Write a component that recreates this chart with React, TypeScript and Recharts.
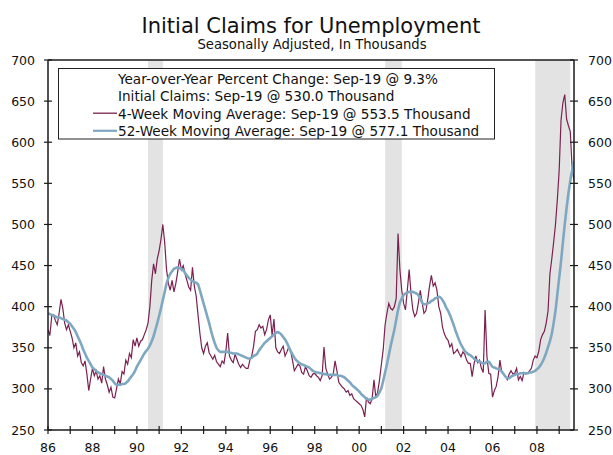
import React from 'react';
import { ComposedChart, Line, XAxis, YAxis, ReferenceArea, ReferenceLine } from 'recharts';

// Monthly readings, Jan 1986 through Sep 2009, in thousands
const START_YEAR = 1986;

const fourWeekAvg = [
  // 1986
  372, 365, 388, 390, 383, 378, 392, 409, 398, 380, 372, 378,
  // 1987
  370, 362, 350, 356, 340, 345, 332, 328, 334, 318, 298, 312,
  // 1988
  325, 316, 322, 312, 316, 307, 327, 312, 305, 296, 302, 290,
  // 1989
  289, 300, 312, 306, 321, 318, 335, 330, 343, 338, 360, 352,
  // 1990
  362, 352, 358, 360, 366, 372, 380, 400, 432, 452, 440, 458,
  // 1991
  468, 482, 500, 478, 445, 428, 420, 432, 418, 428, 442, 458,
  // 1992
  445, 450, 440, 432, 424, 420, 448, 425, 413, 390, 368, 350,
  // 1993
  343, 352, 356, 344, 340, 336, 341, 333, 330, 327, 334, 331,
  // 1994
  345, 368, 340, 335, 332, 342, 336, 330, 326, 330, 327, 325,
  // 1995
  325, 335, 340, 352, 370, 372, 378, 374, 376, 366, 372, 384,
  // 1996
  390, 365, 385, 350, 345, 343, 348, 352, 340, 345, 351, 346,
  // 1997
  335, 322, 326, 330, 328, 320, 318, 327, 322, 316, 314, 318,
  // 1998
  319, 316, 314, 310, 316, 351, 325, 318, 312, 314, 318, 334,
  // 1999
  322, 308, 305, 302, 300, 296, 298, 292, 294, 288, 286, 284,
  // 2000
  282, 280, 275, 266, 290, 284, 282, 288, 311, 290, 296, 311,
  // 2001
  330, 348, 378, 392, 404, 398, 396, 400, 410, 489, 445, 420,
  // 2002
  404, 396, 420, 445, 416, 396, 388, 392, 405, 420, 405, 392,
  // 2003
  395, 408, 425, 438, 425, 429, 420, 400, 392, 375, 367, 362,
  // 2004
  359, 351, 355, 343, 345, 348, 343, 339, 345, 342, 335, 331,
  // 2005
  331, 315, 330, 340, 332, 335, 325, 320, 396, 339, 319, 318,
  // 2006
  290, 298, 303, 315, 335, 320, 318, 315, 311, 318, 322, 318,
  // 2007
  319, 325, 311, 315, 310, 320, 318, 319, 322, 325, 335, 340,
  // 2008
  338, 346, 360, 366, 370, 380, 395, 440, 458, 478, 500, 530,
  // 2009
  566, 627, 648, 658, 628, 620, 613, 568, 553.5,
];

const fiftyTwoWeekAvg = [
  // 1986
  392, 391, 390, 389, 388, 387, 387, 386, 385, 384, 383, 381,
  // 1987
  379, 376, 373, 369, 364, 359, 354, 348, 343, 338, 334, 330,
  // 1988
  326, 324, 322, 320, 319, 318, 317, 316, 315, 314, 312, 310,
  // 1989
  307, 305, 305, 305, 306, 306, 307, 309, 312, 315, 318, 322,
  // 1990
  327, 331, 335, 339, 343, 346, 349, 353, 358, 364, 372, 380,
  // 1991
  389, 398, 408, 418, 428, 435, 440, 443, 446, 447, 448, 447,
  // 1992
  446, 444, 441, 438, 435, 433, 431, 430, 429, 427, 420, 412,
  // 1993
  404, 396, 388, 380, 371, 363, 356, 350, 347, 345, 345, 345,
  // 1994
  345, 345, 344, 344, 343, 343, 343, 342, 341, 340, 339, 338,
  // 1995
  337, 337, 338, 340, 341, 343, 347, 350, 353, 356, 358, 360,
  // 1996
  362, 364, 366, 368, 369, 368, 366, 363, 360, 356, 351, 346,
  // 1997
  342, 338, 335, 333, 331, 330, 329, 328, 327, 326, 324, 322,
  // 1998
  321, 320, 320, 319, 319, 318, 318, 317, 317, 317, 317, 317,
  // 1999
  317, 316, 316, 315, 314, 312, 310, 308, 305, 303, 301, 299,
  // 2000
  297, 294, 292, 290, 288, 287, 287, 288, 289, 290, 292, 296,
  // 2001
  301, 310, 320, 330, 341, 352, 362, 372, 384, 396, 405, 410,
  // 2002
  414, 416, 417, 418, 418, 418, 417, 416, 414, 410, 405, 403,
  // 2003
  403, 404, 405, 407, 408, 410, 411, 412, 411, 408, 404, 399,
  // 2004
  395, 390, 384, 378, 371, 365, 359, 354, 350, 346, 344, 342,
  // 2005
  341, 339, 337, 335, 334, 333, 332, 331, 331, 333, 333, 330,
  // 2006
  327, 326, 325, 324, 323, 321, 318, 315, 313, 313, 315, 316,
  // 2007
  317, 318, 318, 319, 319, 319, 319, 319, 320, 320, 321, 322,
  // 2008
  324, 326, 329, 333, 338, 344, 351, 358, 367, 380, 395, 415,
  // 2009
  435, 455, 478, 500, 520, 538, 553, 566, 577.1,
];

const recessions = [
  { from: 1990.5, to: 1991.17 },
  { from: 2001.17, to: 2001.92 },
  { from: 2007.92, to: 2009.5 },
];

const yearTicks = [
  1986, 1987, 1988, 1989, 1990, 1991, 1992, 1993, 1994, 1995, 1996, 1997,
  1998, 1999, 2000, 2001, 2002, 2003, 2004, 2005, 2006, 2007, 2008, 2009,
];
const valueTicks = [250, 300, 350, 400, 450, 500, 550, 600, 650, 700];

const MAROON = '#7a2150';
const STEEL = '#7ea8c2';
const AXIS = '#1a1a1a';
const FONT = '"DejaVu Sans", Verdana, sans-serif';

const legendRows = [
  { label: 'Year-over-Year Percent Change: Sep-19 @ 9.3%', color: '' },
  { label: 'Initial Claims: Sep-19 @ 530.0 Thousand', color: '' },
  { label: '4-Week Moving Average: Sep-19 @ 553.5 Thousand', color: MAROON },
  { label: '52-Week Moving Average: Sep-19 @ 577.1 Thousand', color: STEEL },
];

const chartData = fourWeekAvg.map((v, i) => ({
  t: START_YEAR + i / 12,
  ma4: v,
  ma52: fiftyTwoWeekAvg[i],
}));

const YearTick = (props: any) => {
  const x = Number(props.x);
  const y = Number(props.y);
  const yr = Number(props.payload.value);
  return (
    <g>
      <line x1={x} x2={x} y1={y - 4} y2={y + 4} stroke={AXIS} strokeWidth={1.2} />
      {yr % 2 === 0 && (
        <text x={x} y={y + 21.5} textAnchor="middle" fontSize={12.5} fontFamily={FONT} fill="#111">
          {String(yr % 100).padStart(2, '0')}
        </text>
      )}
    </g>
  );
};

const ValueTick = (props: any) => {
  const x = Number(props.x);
  const y = Number(props.y);
  const right = props.side === 'right';
  return (
    <g>
      <line x1={x - 4} x2={x + 4} y1={y} y2={y} stroke={AXIS} strokeWidth={1.2} />
      <text
        x={right ? x + 14 : x - 13}
        y={y + 4.5}
        textAnchor={right ? 'start' : 'end'}
        fontSize={12.5}
        fontFamily={FONT}
        fill="#111"
      >
        {props.payload.value}
      </text>
    </g>
  );
};

export default function App() {
  return (
    <div style={{ position: 'absolute', left: 0, top: 0, width: 613, height: 455, background: '#fff', overflow: 'hidden' }}>
      <ComposedChart
        width={613}
        height={455}
        data={chartData}
        margin={{ top: 60, right: 0, bottom: 0, left: 0 }}
        style={{ overflow: 'visible' }}
      >
        <XAxis
          dataKey="t"
          type="number"
          domain={[START_YEAR, START_YEAR + 284 / 12]}
          ticks={yearTicks}
          interval={0}
          height={25}
          tickSize={0}
          tickMargin={0}
          tickLine={false}
          axisLine={{ stroke: AXIS, strokeWidth: 1.5 }}
          tick={<YearTick />}
          allowDataOverflow
        />
        <YAxis
          yAxisId="left"
          orientation="left"
          width={48}
          domain={[250, 700]}
          ticks={valueTicks}
          tickSize={0}
          tickMargin={0}
          tickLine={false}
          axisLine={{ stroke: AXIS, strokeWidth: 1.5 }}
          tick={<ValueTick side="left" />}
          allowDataOverflow
        />
        <YAxis
          yAxisId="right"
          orientation="right"
          width={39}
          domain={[250, 700]}
          ticks={valueTicks}
          tickSize={0}
          tickMargin={0}
          tickLine={false}
          axisLine={{ stroke: AXIS, strokeWidth: 1.5 }}
          tick={<ValueTick side="right" />}
          allowDataOverflow
        />
        {recessions.map((r) => (
          <ReferenceArea
            key={r.from}
            yAxisId="left"
            x1={r.from}
            x2={r.to}
            y1={250}
            y2={700}
            fill="#e3e3e3"
            fillOpacity={1}
            stroke="none"
          />
        ))}
        <ReferenceLine yAxisId="left" y={700} stroke={AXIS} strokeWidth={1.5} />
        <Line
          yAxisId="left"
          type="linear"
          dataKey="ma4"
          stroke={MAROON}
          strokeWidth={1.2}
          dot={false}
          isAnimationActive={false}
        />
        <Line
          yAxisId="left"
          type="monotone"
          dataKey="ma52"
          stroke={STEEL}
          strokeWidth={2.6}
          dot={false}
          isAnimationActive={false}
        />
      </ComposedChart>

      {/* title, subtitle and the boxed legend drawn above the plot */}
      <svg
        width={613}
        height={455}
        style={{ position: 'absolute', left: 0, top: 0, pointerEvents: 'none' }}
      >
        <text x={311} y={32.5} textAnchor="middle" fontSize={21} fontFamily={FONT} fill="#111">
          Initial Claims for Unemployment
        </text>
        <text x={312} y={48.5} textAnchor="middle" fontSize={13.2} fontFamily={FONT} fill="#111">
          Seasonally Adjusted, In Thousands
        </text>
        <rect x={58.5} y={68.5} width={436} height={70.5} fill="#fff" stroke="#222" strokeWidth={1} />
        {legendRows.map((row, i) => {
          const base = 83.5 + i * 17.6;
          return (
            <g key={row.label}>
              {row.color && (
                <line x1={93} x2={117} y1={base - 5.5} y2={base - 5.5} stroke={row.color} strokeWidth={row.color === STEEL ? 2.2 : 1.3} />
              )}
              <text x={118} y={base} fontSize={13.6} fontFamily={FONT} fill="#111">
                {row.label}
              </text>
            </g>
          );
        })}
      </svg>
    </div>
  );
}
